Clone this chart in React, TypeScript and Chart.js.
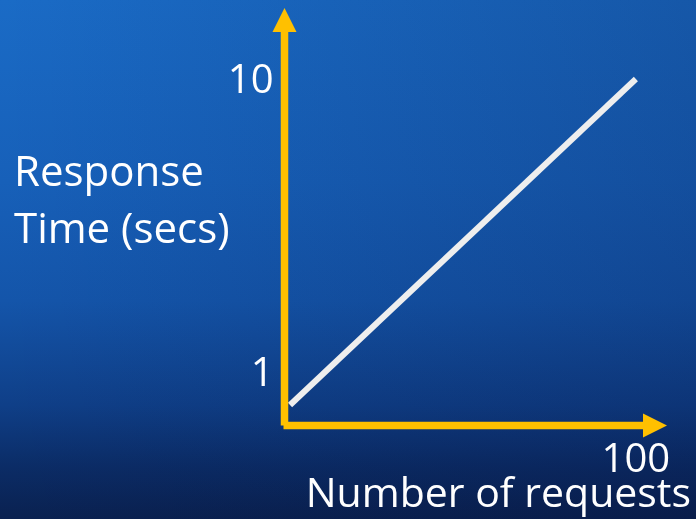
import React, { useEffect, useRef } from "react";
import { Chart, registerables } from "chart.js";

Chart.register(...registerables);

// Response time grows linearly with the number of requests
const requests = [0, 100];
const responseSecs = [0, 10];

// Axis labels shown along each axis
const xTickValues = [100];
const yTickValues = [1, 10];
const xTitle = "Number of requests";
const yTitleLines = ["Response", "Time (secs)"];

const AXIS_COLOR = "#ffc000";
const TEXT_COLOR = "#ffffff";
const FONT = '"Open Sans", sans-serif';

const arrowAxes = {
  id: "arrowAxes",
  afterDatasetsDraw(chart: Chart) {
    const { ctx, chartArea, scales } = chart;
    const x = scales.x;
    const y = scales.y;
    const ox = chartArea.left;
    const oy = chartArea.bottom;
    const head = 24;
    const half = 12;
    const w = 7.5;

    ctx.save();
    ctx.fillStyle = AXIS_COLOR;
    // vertical axis with arrow head
    ctx.fillRect(ox - w / 2, chartArea.top + head - 1, w, oy - chartArea.top - head + 1);
    ctx.beginPath();
    ctx.moveTo(ox, chartArea.top);
    ctx.lineTo(ox + half, chartArea.top + head);
    ctx.lineTo(ox - half, chartArea.top + head);
    ctx.closePath();
    ctx.fill();
    // horizontal axis with arrow head
    ctx.fillRect(ox - 1, oy - w / 2, chartArea.right - head - ox + 2, w);
    ctx.beginPath();
    ctx.moveTo(chartArea.right, oy);
    ctx.lineTo(chartArea.right - head, oy - half);
    ctx.lineTo(chartArea.right - head, oy + half);
    ctx.closePath();
    ctx.fill();

    ctx.fillStyle = TEXT_COLOR;
    ctx.font = `40px ${FONT}`;
    // y tick labels
    ctx.textAlign = "right";
    ctx.textBaseline = "alphabetic";
    yTickValues.forEach((v) => {
      ctx.fillText(String(v), ox - 11, y.getPixelForValue(v) + 14);
    });
    // x tick labels
    ctx.textAlign = "center";
    xTickValues.forEach((v) => {
      ctx.fillText(String(v), x.getPixelForValue(v), oy + 46.5);
    });
    // axis titles
    ctx.font = `41px ${FONT}`;
    ctx.textAlign = "right";
    ctx.fillText(xTitle, 691, 507);
    ctx.font = `42px ${FONT}`;
    ctx.textAlign = "left";
    yTitleLines.forEach((line, i) => {
      ctx.fillText(line, 14, 186 + i * 57);
    });
    ctx.restore();
  },
};

export default function App() {
  const canvasRef = useRef<HTMLCanvasElement>(null);

  useEffect(() => {
    if (!canvasRef.current) return;
    const chart = new Chart(canvasRef.current, {
      type: "line",
      data: {
        datasets: [
          {
            data: requests.map((r, i) => ({ x: r, y: responseSecs[i] })),
            borderColor: "#eeeeee",
            borderWidth: 6,
            borderCapStyle: "butt",
            pointRadius: 0,
            clip: false as any,
          },
        ],
      },
      options: {
        animation: false,
        responsive: false,
        layout: { padding: { left: 284.5, right: 29, top: 8, bottom: 93.5 } },
        plugins: { legend: { display: false }, tooltip: { enabled: false } },
        scales: {
          x: { type: "linear", min: -1.6, max: 109, display: false },
          y: { type: "linear", min: -0.63, max: 12.18, display: false },
        },
      },
      plugins: [arrowAxes],
    });
    return () => chart.destroy();
  }, []);

  return (
    <div
      style={{
        position: "fixed",
        left: 0,
        top: 0,
        width: 696,
        height: 519,
        background:
          "linear-gradient(90deg, rgba(0,0,0,0) 0%, rgba(5,10,50,0.2) 100%), linear-gradient(180deg, #1a6bc6 0%, #1760b9 35%, #1455aa 58%, #0f3f88 78%, #0b2c66 90%, #0a2150 100%)",
      }}
    >
      <canvas ref={canvasRef} width={696} height={519} />
    </div>
  );
}
